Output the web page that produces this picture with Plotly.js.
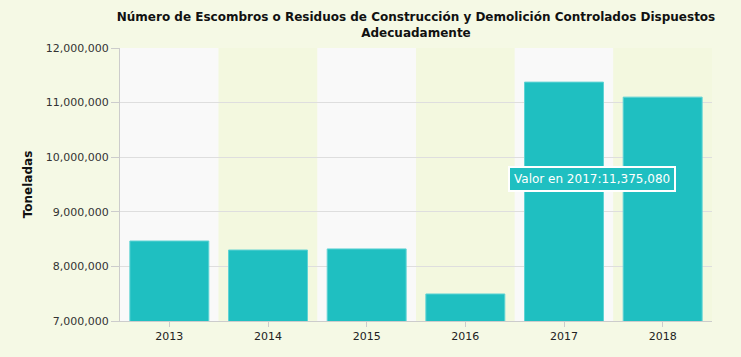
<!DOCTYPE html>
<html>
<head>
<meta charset="utf-8">
<script src="https://cdn.plot.ly/plotly-3.0.1.min.js"></script>
<style>html,body{margin:0;padding:0;background:#f5f9e5;}#chart{width:741px;height:357px;}</style>
</head>
<body>
<div id="chart"></div>
<script>
var years = ['2013', '2014', '2015', '2016', '2017', '2018'];
var toneladas = [8465000, 8300000, 8320000, 7495000, 11375080, 11100000];
var yTicks = [7000000, 8000000, 9000000, 10000000, 11000000, 12000000];
var bandColors = ['#f9f9f9', '#f3f8df', '#f9f9f9', '#f3f8df', '#f9f9f9', '#f3f8df'];

var idx = years.map(function (y, i) { return i; });

var shapes = idx.map(function (i) {
  return {type: 'rect', xref: 'x', yref: 'paper', x0: i - 0.5, x1: i + 0.5, y0: 0, y1: 1,
    fillcolor: bandColors[i], line: {width: 0}, layer: 'below'};
});

var trace = {
  type: 'bar', x: idx, y: toneladas, width: 0.8,
  marker: {color: '#1fbfc1', line: {color: '#5fd3d4', width: 1}},
  hoverinfo: 'skip'
};

var layout = {
  width: 741, height: 357,
  paper_bgcolor: '#f5f9e5', plot_bgcolor: '#f5f9e5',
  margin: {l: 120, r: 29, t: 48, b: 36},
  font: {family: 'DejaVu Sans, Verdana, sans-serif', size: 11, color: '#333'},
  title: {text: 'Número de Escombros o Residuos de Construcción y Demolición Controlados Dispuestos<br>Adecuadamente',
    font: {size: 12, color: '#111', weight: 'bold'}, x: 0.5, xref: 'paper', y: 0.94, yanchor: 'top'},
  shapes: shapes,
  xaxis: {range: [-0.5, 5.5], tickvals: idx, ticktext: years, showgrid: false, zeroline: false,
    showline: true, linecolor: '#ccc', ticks: 'outside', ticklen: 5, tickcolor: '#ccc',
    tickfont: {size: 11, color: '#222'}},
  yaxis: {range: [7000000, 12000000], tickvals: yTicks, tickformat: ',d',
    showgrid: true, gridcolor: '#dedede', showline: true, linecolor: '#ccc', ticks: 'outside', ticklen: 8, tickcolor: '#ccc',
    tickfont: {size: 11, color: '#333'}, zeroline: false,
    title: {text: 'Toneladas', font: {size: 12, color: '#111', weight: 'bold'}, standoff: 10}},
  separators: '.,',
  annotations: [{
    x: 4, y: 9600000, xref: 'x', yref: 'y', xshift: 28,
    text: 'Valor en ' + years[4] + ':' + toneladas[4].toLocaleString('en-US'),
    showarrow: false, bgcolor: '#1fbfc1', bordercolor: '#ffffff', borderwidth: 2, borderpad: 4,
    font: {color: '#ffffff', size: 12}
  }]
};

Plotly.newPlot('chart', [trace], layout, {displayModeBar: false, staticPlot: true});
</script>
</body>
</html>
